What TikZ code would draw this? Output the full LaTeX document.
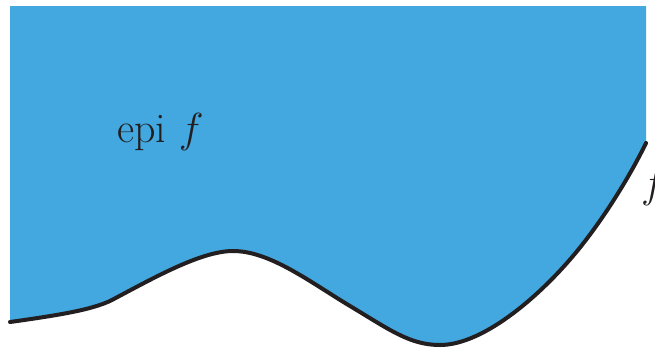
\RequirePackage{fix-cm}
\documentclass[tikz,border=0pt]{standalone}
\definecolor{epiblue}{HTML}{42A8DF}
\definecolor{curvecol}{HTML}{231F20}
\tikzset{
  curveline/.style={draw=curvecol, line width=4pt, line cap=round},
  biglabel/.style={font=\fontsize{42}{48}\selectfont, text=curvecol, inner sep=0pt}
}
\begin{document}
\begin{tikzpicture}[x=1pt,y=-1pt]
\clip (0,0) rectangle (655,349);
\fill[epiblue] (10,6) -- (646,6) -- (646,143)
  .. controls (632,172) and (608,212) .. (582,245)
  .. controls (545,292) and (485,345) .. (440,345)
  .. controls (410,345) and (390,330) .. (350,306)
  .. controls (310,282) and (270,251) .. (233,251)
  .. controls (200,251) and (150,280) .. (110,301)
  .. controls (90,310) and (60,315) .. (10,322) -- cycle;
\draw[curveline] (10,322)
  .. controls (60,315) and (90,310) .. (110,301)
  .. controls (150,280) and (200,251) .. (233,251)
  .. controls (270,251) and (310,282) .. (350,306)
  .. controls (390,330) and (410,345) .. (440,345)
  .. controls (485,345) and (545,292) .. (582,245)
  .. controls (608,212) and (632,172) .. (646,143);
\node[biglabel, anchor=base west] (epi) at (117,142) {epi $f$};
\node[biglabel, anchor=base west] (flab) at (641,197) {$f$};
\end{tikzpicture}
\end{document}
